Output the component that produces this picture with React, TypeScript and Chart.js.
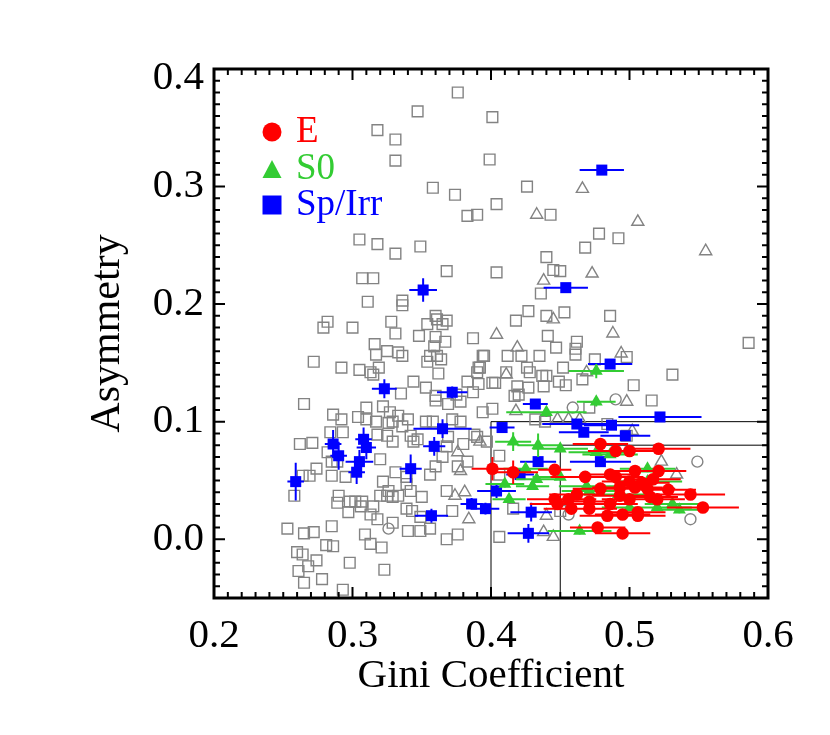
import React, { useEffect, useRef } from 'react';
import { Chart, registerables } from 'chart.js';

Chart.register(...registerables);

const FONT = "'Liberation Serif', 'Times New Roman', serif";

const X_MIN = 0.2;
const X_MAX = 0.6;
const Y_MIN = -0.05;
const Y_MAX = 0.4;
const X_TICKS = [0.2, 0.3, 0.4, 0.5, 0.6];
const Y_TICKS = [0.0, 0.1, 0.2, 0.3, 0.4];
const MINOR_STEP = 0.01;

const X_TITLE = 'Gini Coefficient';
const Y_TITLE = 'Asymmetry';
const LEGEND_LABELS = ['E', 'S0', 'Sp/Irr'];
const COLORS = ['#ff0000', '#33cc33', '#0000ff'];
const GRAY = '#838383';

// selection boundaries: [x1, y1, x2, y2]
const CUT_LINES = [
  [0.40, -0.05, 0.40, 0.10],
  [0.40, 0.10, 0.60, 0.10],
  [0.45, -0.05, 0.45, 0.08],
  [0.45, 0.08, 0.60, 0.08],
];

// comparison sample: open squares [gini, asymmetry]
const graySquares = [
  [0.376, 0.380], [0.347, 0.364], [0.318, 0.348], [0.331, 0.340], [0.331, 0.322],
  [0.358, 0.299], [0.374, 0.293], [0.383, 0.275], [0.390, 0.276], [0.401, 0.359],
  [0.399, 0.323], [0.404, 0.285], [0.305, 0.255], [0.318, 0.251], [0.349, 0.249],
  [0.426, 0.300], [0.443, 0.276], [0.478, 0.260], [0.492, 0.256], [0.468, 0.248],
  [0.440, 0.240], [0.404, 0.227], [0.445, 0.229], [0.450, 0.228], [0.436, 0.209],
  [0.427, 0.194], [0.418, 0.186], [0.440, 0.190], [0.453, 0.193], [0.486, 0.190],
  [0.441, 0.173], [0.462, 0.168], [0.447, 0.163], [0.395, 0.156], [0.412, 0.156],
  [0.422, 0.156], [0.435, 0.156], [0.461, 0.157], [0.461, 0.162], [0.475, 0.153],
  [0.498, 0.155], [0.586, 0.167], [0.531, 0.140], [0.503, 0.131], [0.516, 0.118],
  [0.392, 0.146], [0.411, 0.142], [0.426, 0.146], [0.428, 0.142], [0.437, 0.139],
  [0.440, 0.139], [0.452, 0.146], [0.466, 0.136], [0.403, 0.133], [0.419, 0.130],
  [0.427, 0.129], [0.438, 0.130], [0.449, 0.134], [0.454, 0.131], [0.417, 0.122],
  [0.420, 0.123], [0.401, 0.111], [0.471, 0.112], [0.432, 0.102], [0.439, 0.100],
  [0.484, 0.098], [0.498, 0.088], [0.331, 0.243], [0.368, 0.228], [0.307, 0.222],
  [0.315, 0.222], [0.311, 0.202], [0.336, 0.203], [0.336, 0.199], [0.282, 0.185],
  [0.279, 0.180], [0.300, 0.180], [0.328, 0.185], [0.331, 0.175], [0.348, 0.173],
  [0.360, 0.190], [0.354, 0.183], [0.361, 0.187], [0.368, 0.186], [0.365, 0.183],
  [0.360, 0.172], [0.367, 0.168], [0.387, 0.171], [0.359, 0.164], [0.316, 0.166],
  [0.317, 0.157], [0.325, 0.160], [0.333, 0.159], [0.336, 0.156], [0.356, 0.156],
  [0.361, 0.156], [0.354, 0.151], [0.364, 0.153], [0.394, 0.156], [0.272, 0.151],
  [0.292, 0.146], [0.305, 0.144], [0.313, 0.142], [0.319, 0.146], [0.315, 0.140],
  [0.362, 0.141], [0.391, 0.146], [0.390, 0.142], [0.383, 0.134], [0.391, 0.132],
  [0.401, 0.133], [0.344, 0.134], [0.335, 0.124], [0.353, 0.129], [0.360, 0.122],
  [0.360, 0.118], [0.375, 0.123], [0.378, 0.117], [0.369, 0.115], [0.387, 0.125],
  [0.265, 0.115], [0.310, 0.112], [0.322, 0.113], [0.327, 0.108], [0.333, 0.105],
  [0.329, 0.100], [0.286, 0.106], [0.292, 0.102], [0.304, 0.104], [0.310, 0.102],
  [0.317, 0.100], [0.340, 0.102], [0.353, 0.100], [0.358, 0.100], [0.372, 0.102],
  [0.378, 0.100], [0.394, 0.108], [0.284, 0.091], [0.293, 0.091], [0.318, 0.089],
  [0.325, 0.088], [0.342, 0.088], [0.369, 0.087], [0.390, 0.087], [0.262, 0.081],
  [0.271, 0.082], [0.285, 0.066], [0.289, 0.066], [0.269, 0.054], [0.264, 0.054],
  [0.274, 0.060], [0.285, 0.054], [0.295, 0.053], [0.282, 0.074], [0.320, 0.068],
  [0.331, 0.057], [0.322, 0.049], [0.326, 0.041], [0.325, 0.037], [0.333, 0.037],
  [0.329, 0.036], [0.258, 0.037], [0.290, 0.037], [0.289, 0.031], [0.298, 0.032],
  [0.297, 0.023], [0.302, 0.032], [0.307, 0.032], [0.306, 0.028], [0.313, 0.021],
  [0.320, 0.037], [0.315, 0.028], [0.318, 0.017], [0.329, 0.014], [0.340, 0.007],
  [0.349, 0.007], [0.356, 0.009], [0.368, 0.000], [0.376, 0.004], [0.368, 0.041],
  [0.372, 0.024], [0.309, 0.004], [0.313, -0.004], [0.321, -0.007], [0.323, -0.026],
  [0.298, -0.020], [0.285, 0.011], [0.272, 0.006], [0.265, 0.005], [0.253, 0.009],
  [0.281, -0.005], [0.286, -0.006], [0.260, -0.011], [0.264, -0.013], [0.268, -0.023],
  [0.274, -0.018], [0.261, -0.027], [0.265, -0.037], [0.278, -0.034], [0.293, -0.043],
  [0.339, 0.053], [0.339, 0.047], [0.342, 0.041], [0.339, 0.026], [0.343, 0.024],
  [0.350, 0.036], [0.349, 0.019], [0.356, 0.055], [0.360, 0.062], [0.365, 0.070],
  [0.376, 0.062], [0.383, 0.066], [0.368, 0.079], [0.380, 0.081], [0.388, 0.089],
  [0.326, 0.099], [0.336, 0.096], [0.344, 0.083], [0.329, 0.083], [0.347, 0.085],
  [0.406, 0.002], [0.450, 0.024], [0.416, 0.026], [0.406, 0.055], [0.406, 0.071],
  [0.397, 0.083],
];

// comparison sample: open triangles
const grayTriangles = [
  [0.433, 0.276], [0.466, 0.298], [0.506, 0.270], [0.555, 0.245], [0.438, 0.220],
  [0.473, 0.226], [0.445, 0.187], [0.488, 0.175], [0.404, 0.174], [0.419, 0.163],
  [0.494, 0.158], [0.498, 0.117], [0.411, 0.140], [0.469, 0.142], [0.418, 0.109],
  [0.448, 0.102], [0.456, 0.102], [0.464, 0.102], [0.502, 0.092], [0.392, 0.083],
  [0.376, 0.074], [0.378, 0.058], [0.381, 0.040], [0.374, 0.037], [0.384, 0.017],
  [0.438, 0.006], [0.445, 0.002], [0.523, 0.066], [0.534, 0.055], [0.440, 0.020],
];

// comparison sample: open circles
const grayCircles = [
  [0.490, 0.119], [0.459, 0.112], [0.549, 0.066], [0.544, 0.017], [0.456, 0.021],
  [0.326, 0.009],
];

// E galaxies: [gini, asymmetry, gini error, asymmetry error]
const ellipticals = [
  [0.479, 0.081, 0.020, 0.003], [0.490, 0.075, 0.020, 0.003], [0.500, 0.075, 0.020, 0.003],
  [0.521, 0.077, 0.023, 0.003], [0.401, 0.060, 0.015, 0.010], [0.416, 0.057, 0.018, 0.010],
  [0.446, 0.059, 0.012, 0.003], [0.468, 0.053, 0.025, 0.003], [0.486, 0.055, 0.020, 0.003],
  [0.490, 0.053, 0.020, 0.003], [0.504, 0.058, 0.020, 0.003], [0.521, 0.058, 0.020, 0.003],
  [0.500, 0.049, 0.020, 0.003], [0.509, 0.048, 0.020, 0.003], [0.517, 0.051, 0.020, 0.003],
  [0.493, 0.044, 0.020, 0.003], [0.504, 0.044, 0.020, 0.003], [0.513, 0.043, 0.020, 0.003],
  [0.528, 0.042, 0.020, 0.003], [0.544, 0.038, 0.025, 0.003], [0.553, 0.027, 0.026, 0.003],
  [0.446, 0.034, 0.020, 0.003], [0.456, 0.034, 0.020, 0.003], [0.462, 0.038, 0.020, 0.003],
  [0.471, 0.032, 0.020, 0.003], [0.486, 0.030, 0.020, 0.003], [0.493, 0.037, 0.020, 0.003],
  [0.500, 0.034, 0.020, 0.003], [0.515, 0.036, 0.020, 0.003], [0.520, 0.034, 0.020, 0.003],
  [0.458, 0.026, 0.020, 0.003], [0.471, 0.026, 0.020, 0.003], [0.484, 0.020, 0.020, 0.003],
  [0.495, 0.021, 0.020, 0.003], [0.506, 0.020, 0.020, 0.003], [0.506, 0.023, 0.020, 0.003],
  [0.477, 0.010, 0.020, 0.003], [0.495, 0.005, 0.020, 0.003], [0.448, 0.030, 0.020, 0.003],
  [0.479, 0.043, 0.020, 0.003],
];

// S0 galaxies
const lenticulars = [
  [0.476, 0.143, 0.020, 0.006], [0.476, 0.117, 0.014, 0.004], [0.440, 0.108, 0.029, 0.004],
  [0.416, 0.083, 0.013, 0.008], [0.434, 0.080, 0.015, 0.010], [0.450, 0.077, 0.020, 0.003],
  [0.425, 0.060, 0.016, 0.003], [0.433, 0.051, 0.015, 0.003], [0.430, 0.045, 0.012, 0.003],
  [0.410, 0.047, 0.014, 0.003], [0.413, 0.034, 0.012, 0.003], [0.464, 0.007, 0.023, 0.003],
  [0.471, 0.041, 0.020, 0.003], [0.513, 0.060, 0.020, 0.003], [0.520, 0.027, 0.025, 0.003],
  [0.531, 0.030, 0.020, 0.003], [0.536, 0.025, 0.020, 0.003], [0.500, 0.027, 0.020, 0.003],
  [0.469, 0.045, 0.020, 0.003], [0.486, 0.072, 0.020, 0.003], [0.476, 0.074, 0.020, 0.003],
  [0.513, 0.049, 0.025, 0.003], [0.450, 0.053, 0.020, 0.003], [0.492, 0.038, 0.025, 0.003],
];

// Sp/Irr galaxies
const spirals = [
  [0.480, 0.314, 0.016, 0.004], [0.454, 0.214, 0.016, 0.003], [0.351, 0.212, 0.010, 0.010],
  [0.486, 0.149, 0.016, 0.003], [0.323, 0.128, 0.009, 0.008], [0.372, 0.125, 0.011, 0.005],
  [0.432, 0.115, 0.009, 0.004], [0.522, 0.104, 0.030, 0.003], [0.408, 0.095, 0.009, 0.004],
  [0.462, 0.098, 0.025, 0.003], [0.487, 0.097, 0.020, 0.003], [0.467, 0.091, 0.018, 0.003],
  [0.497, 0.088, 0.018, 0.003], [0.365, 0.094, 0.021, 0.008], [0.286, 0.081, 0.006, 0.012],
  [0.308, 0.085, 0.006, 0.010], [0.310, 0.078, 0.007, 0.010], [0.290, 0.071, 0.006, 0.012],
  [0.305, 0.066, 0.010, 0.010], [0.303, 0.057, 0.006, 0.010], [0.259, 0.049, 0.006, 0.016],
  [0.342, 0.060, 0.008, 0.012], [0.359, 0.079, 0.008, 0.008], [0.357, 0.020, 0.012, 0.006],
  [0.386, 0.030, 0.008, 0.005], [0.396, 0.026, 0.010, 0.005], [0.404, 0.041, 0.014, 0.006],
  [0.427, 0.005, 0.015, 0.008], [0.429, 0.023, 0.015, 0.008], [0.434, 0.066, 0.013, 0.004],
  [0.479, 0.066, 0.022, 0.003], [0.421, 0.055, 0.010, 0.003],
];

const toPoints = (arr: number[][]) => arr.map((p) => ({ x: p[0], y: p[1] }));

const errorBarPlugin = {
  id: 'errorBars',
  beforeDatasetDraw(chart: any, args: any) {
    const ds = chart.data.datasets[args.index];
    if (!ds.errors) return;
    const { ctx } = chart;
    const xs = chart.scales.x;
    const ys = chart.scales.y;
    ctx.save();
    ctx.strokeStyle = ds.errColor;
    ctx.lineWidth = 2;
    ctx.beginPath();
    ds.errors.forEach((p: number[]) => {
      const px = xs.getPixelForValue(p[0]);
      const py = ys.getPixelForValue(p[1]);
      ctx.moveTo(xs.getPixelForValue(p[0] - p[2]), py);
      ctx.lineTo(xs.getPixelForValue(p[0] + p[2]), py);
      ctx.moveTo(px, ys.getPixelForValue(p[1] - p[3]));
      ctx.lineTo(px, ys.getPixelForValue(p[1] + p[3]));
    });
    ctx.stroke();
    ctx.restore();
  },
};

const cutLinePlugin = {
  id: 'cutLines',
  beforeDatasetsDraw(chart: any) {
    const { ctx } = chart;
    const xs = chart.scales.x;
    const ys = chart.scales.y;
    ctx.save();
    ctx.strokeStyle = '#000';
    ctx.lineWidth = 1;
    ctx.beginPath();
    CUT_LINES.forEach((l) => {
      ctx.moveTo(xs.getPixelForValue(l[0]), ys.getPixelForValue(l[1]));
      ctx.lineTo(xs.getPixelForValue(l[2]), ys.getPixelForValue(l[3]));
    });
    ctx.stroke();
    ctx.restore();
  },
};

const framePlugin = {
  id: 'frame',
  afterDraw(chart: any) {
    const { ctx, chartArea: a } = chart;
    const xs = chart.scales.x;
    const ys = chart.scales.y;
    ctx.save();
    ctx.strokeStyle = '#000';
    ctx.lineWidth = 2;
    ctx.beginPath();
    const nx = Math.round((X_MAX - X_MIN) / MINOR_STEP);
    for (let i = 0; i <= nx; i++) {
      const v = X_MIN + i * MINOR_STEP;
      const major = i % 10 === 0;
      const len = major ? 11 : 6;
      const px = xs.getPixelForValue(v);
      ctx.moveTo(px, a.bottom);
      ctx.lineTo(px, a.bottom - len);
      ctx.moveTo(px, a.top);
      ctx.lineTo(px, a.top + len);
    }
    const ny = Math.round((Y_MAX - Y_MIN) / MINOR_STEP);
    for (let i = 0; i <= ny; i++) {
      const v = Y_MIN + i * MINOR_STEP;
      const major = Y_TICKS.some((t) => Math.abs(t - v) < 1e-6);
      const len = major ? 11 : 6;
      const py = ys.getPixelForValue(v);
      ctx.moveTo(a.left, py);
      ctx.lineTo(a.left + len, py);
      ctx.moveTo(a.right, py);
      ctx.lineTo(a.right - len, py);
    }
    ctx.stroke();
    ctx.lineWidth = 3;
    ctx.strokeRect(a.left, a.top, a.right - a.left, a.bottom - a.top);
    ctx.restore();
  },
};

const legendPlugin = {
  id: 'customLegend',
  afterDraw(chart: any) {
    const { ctx, chartArea: a } = chart;
    ctx.save();
    const cx = a.left + 58;
    const rows = [63, 100, 136];
    ctx.font = `37px ${FONT}`;
    ctx.textBaseline = 'alphabetic';
    ctx.textAlign = 'left';
    LEGEND_LABELS.forEach((label, i) => {
      const cy = a.top + rows[i];
      ctx.fillStyle = COLORS[i];
      ctx.beginPath();
      if (i === 0) {
        ctx.arc(cx, cy, 9.5, 0, Math.PI * 2);
      } else if (i === 1) {
        ctx.moveTo(cx, cy - 9);
        ctx.lineTo(cx + 9.5, cy + 9);
        ctx.lineTo(cx - 9.5, cy + 9);
        ctx.closePath();
      } else {
        ctx.rect(cx - 9.5, cy - 9.5, 19, 19);
      }
      ctx.fill();
      ctx.fillText(label, a.left + 82, cy + 10);
    });
    ctx.restore();
  },
};

const isTopTick = (v: number) => Math.abs(v - Y_MAX) < 1e-9;

export default function App() {
  const ref = useRef<HTMLCanvasElement>(null);

  useEffect(() => {
    if (!ref.current) return;
    const chart = new Chart(ref.current, {
      type: 'scatter',
      data: {
        datasets: [
          {
            label: 'E',
            data: toPoints(ellipticals),
            errors: ellipticals,
            errColor: COLORS[0],
            pointStyle: 'circle',
            pointRadius: 6.3,
            pointHoverRadius: 6.3,
            backgroundColor: COLORS[0],
            borderColor: COLORS[0],
            borderWidth: 0,
          },
          {
            label: 'S0',
            data: toPoints(lenticulars),
            errors: lenticulars,
            errColor: COLORS[1],
            pointStyle: 'triangle',
            pointRadius: 7.5,
            pointHoverRadius: 7.5,
            backgroundColor: COLORS[1],
            borderColor: COLORS[1],
            borderWidth: 0,
          },
          {
            label: 'Sp/Irr',
            data: toPoints(spirals),
            errors: spirals,
            errColor: COLORS[2],
            pointStyle: 'rect',
            pointRadius: 7.8,
            pointHoverRadius: 7.8,
            backgroundColor: COLORS[2],
            borderColor: COLORS[2],
            borderWidth: 0,
          },
          {
            label: 'circles',
            data: toPoints(grayCircles),
            pointStyle: 'circle',
            pointRadius: 5.5,
            pointHoverRadius: 5.5,
            backgroundColor: 'rgba(0,0,0,0)',
            borderColor: GRAY,
            borderWidth: 1.4,
          },
          {
            label: 'triangles',
            data: toPoints(grayTriangles),
            pointStyle: 'triangle',
            pointRadius: 7,
            pointHoverRadius: 7,
            backgroundColor: 'rgba(0,0,0,0)',
            borderColor: GRAY,
            borderWidth: 1.4,
          },
          {
            label: 'squares',
            data: toPoints(graySquares),
            pointStyle: 'rect',
            pointRadius: 7.6,
            pointHoverRadius: 7.6,
            backgroundColor: 'rgba(0,0,0,0)',
            borderColor: GRAY,
            borderWidth: 1.4,
          },
        ],
      } as any,
      options: {
        responsive: true,
        maintainAspectRatio: false,
        animation: false,
        events: [],
        layout: { padding: { top: 61, right: 54, left: 0, bottom: 0 } },
        plugins: { legend: { display: false }, tooltip: { enabled: false } },
        scales: {
          x: {
            type: 'linear',
            min: X_MIN,
            max: X_MAX,
            afterBuildTicks: (s: any) => {
              s.ticks = X_TICKS.map((v) => ({ value: v }));
            },
            afterFit: (s: any) => {
              s.height = 129;
            },
            grid: { display: false, drawTicks: false },
            border: { display: false },
            ticks: {
              padding: 14,
              color: '#000',
              font: { family: FONT, size: 41 },
              callback: (v: any) => Number(v).toFixed(1),
            },
            title: {
              display: true,
              text: X_TITLE,
              color: '#000',
              font: { family: FONT, size: 41 },
              padding: { top: 0, bottom: 26 },
            },
          },
          y: {
            type: 'linear',
            min: Y_MIN,
            max: Y_MAX,
            afterBuildTicks: (s: any) => {
              s.ticks = Y_TICKS.map((v) => ({ value: v }));
            },
            afterFit: (s: any) => {
              s.width = 206;
            },
            grid: { display: false, drawTicks: false },
            border: { display: false },
            ticks: {
              padding: 10,
              color: '#000',
              font: (ctx: any) =>
                ctx.tick && isTopTick(ctx.tick.value)
                  ? { family: FONT, size: 41, lineHeight: '18px' }
                  : { family: FONT, size: 41 },
              callback: (v: any) => {
                const s = Number(v).toFixed(1);
                return isTopTick(Number(v)) ? ['', s] : s;
              },
            },
            title: {
              display: true,
              text: Y_TITLE,
              color: '#000',
              font: { family: FONT, size: 42 },
              padding: { top: 75, bottom: 0 },
            },
          },
        },
      } as any,
      plugins: [errorBarPlugin, cutLinePlugin, framePlugin, legendPlugin],
    });
    return () => chart.destroy();
  }, []);

  return (
    <div style={{ width: 814, height: 719, position: 'relative' }}>
      <canvas ref={ref} />
    </div>
  );
}
